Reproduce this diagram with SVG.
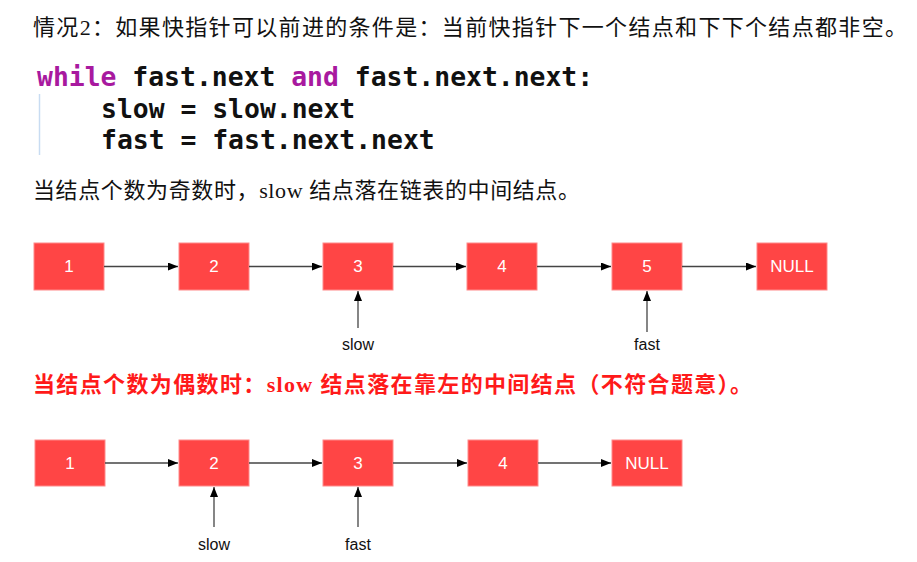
<svg xmlns="http://www.w3.org/2000/svg" width="917" height="562" viewBox="0 0 917 562">
<style>
.cn{font-family:"Liberation Serif","Noto Sans CJK SC",serif;font-size:22px;fill:#111}
.red{fill:#ff1a1a;font-weight:bold}
.code{font-family:"DejaVu Sans Mono",monospace;font-weight:bold;font-size:26.4px;fill:#111;white-space:pre}
.kw{fill:#a8199f}
.box{fill:#ff4545;stroke:#ff8a8a;stroke-width:1}
.lbl{font-family:"Liberation Sans",Arial,sans-serif;font-size:17px;fill:#fff;text-anchor:middle}
.ptr{font-family:"Liberation Sans",Arial,sans-serif;font-size:16px;fill:#111;text-anchor:middle}
.edge{stroke:#444;stroke-width:1.3;fill:none;marker-end:url(#ah)}
</style>
<defs>
<marker id="ah" viewBox="0 0 10 8" refX="10" refY="4" markerWidth="10" markerHeight="8" markerUnits="userSpaceOnUse" orient="auto">
<path d="M0,0 L10,4 L0,8 Z" fill="#000"/>
</marker>
</defs>
<rect width="917" height="562" fill="#fff"/>
<g id="texts">
<text class="cn" x="33" y="35" textLength="874" lengthAdjust="spacing">情况2：如果快指针可以前进的条件是：当前快指针下一个结点和下下个结点都非空。</text>
<text class="code" x="37" y="86"><tspan class="kw">while</tspan> fast.next <tspan class="kw">and</tspan> fast.next.next:</text>
<text class="code" x="101" y="118">slow = slow.next</text>
<text class="code" x="101" y="149">fast = fast.next.next</text>
<line x1="39.5" y1="94" x2="39.5" y2="155" stroke="#c8dcf2" stroke-width="1.5"/>
<text class="cn" x="33" y="198" textLength="547" lengthAdjust="spacing">当结点个数为奇数时，slow 结点落在链表的中间结点。</text>
<text class="cn red" x="33" y="392" textLength="719" lengthAdjust="spacing">当结点个数为偶数时：slow 结点落在靠左的中间结点（不符合题意）。</text>
</g>
<g id="a1"><rect class="box" x="34" y="243" width="70" height="47"/><text class="lbl" x="69" y="272">1</text></g>
<g id="a2"><rect class="box" x="179" y="243" width="70" height="47"/><text class="lbl" x="214" y="272">2</text></g>
<g id="a3"><rect class="box" x="323" y="243" width="70" height="47"/><text class="lbl" x="358" y="272">3</text></g>
<g id="a4"><rect class="box" x="467" y="243" width="70" height="47"/><text class="lbl" x="502" y="272">4</text></g>
<g id="a5"><rect class="box" x="612" y="243" width="70" height="47"/><text class="lbl" x="647" y="272">5</text></g>
<g id="a6"><rect class="box" x="757" y="243" width="70" height="47"/><text class="lbl" x="792" y="272">NULL</text></g>
<g id="aslow"><text class="ptr" x="358" y="350">slow</text></g>
<g id="afast"><text class="ptr" x="647" y="350">fast</text></g>
<g id="b1"><rect class="box" x="35" y="440" width="70" height="46"/><text class="lbl" x="70" y="469">1</text></g>
<g id="b2"><rect class="box" x="179" y="440" width="70" height="46"/><text class="lbl" x="214" y="469">2</text></g>
<g id="b3"><rect class="box" x="323" y="440" width="70" height="46"/><text class="lbl" x="358" y="469">3</text></g>
<g id="b4"><rect class="box" x="468" y="440" width="70" height="46"/><text class="lbl" x="503" y="469">4</text></g>
<g id="b5"><rect class="box" x="612" y="440" width="70" height="46"/><text class="lbl" x="647" y="469">NULL</text></g>
<g id="bslow"><text class="ptr" x="214" y="550">slow</text></g>
<g id="bfast"><text class="ptr" x="358" y="550">fast</text></g>
<g id="connectors">
<line class="edge" x1="104" y1="266.5" x2="178" y2="266.5"/>
<line class="edge" x1="249" y1="266.5" x2="322" y2="266.5"/>
<line class="edge" x1="393" y1="266.5" x2="466" y2="266.5"/>
<line class="edge" x1="537" y1="266.5" x2="611" y2="266.5"/>
<line class="edge" x1="682" y1="266.5" x2="756" y2="266.5"/>
<line class="edge" x1="358" y1="328" x2="358" y2="291"/>
<line class="edge" x1="647" y1="332" x2="647" y2="291"/>
<line class="edge" x1="105" y1="463" x2="178" y2="463"/>
<line class="edge" x1="249" y1="463" x2="322" y2="463"/>
<line class="edge" x1="393" y1="463" x2="467" y2="463"/>
<line class="edge" x1="538" y1="463" x2="611" y2="463"/>
<line class="edge" x1="214" y1="527" x2="214" y2="487"/>
<line class="edge" x1="358" y1="527" x2="358" y2="487"/>
</g>
</svg>
